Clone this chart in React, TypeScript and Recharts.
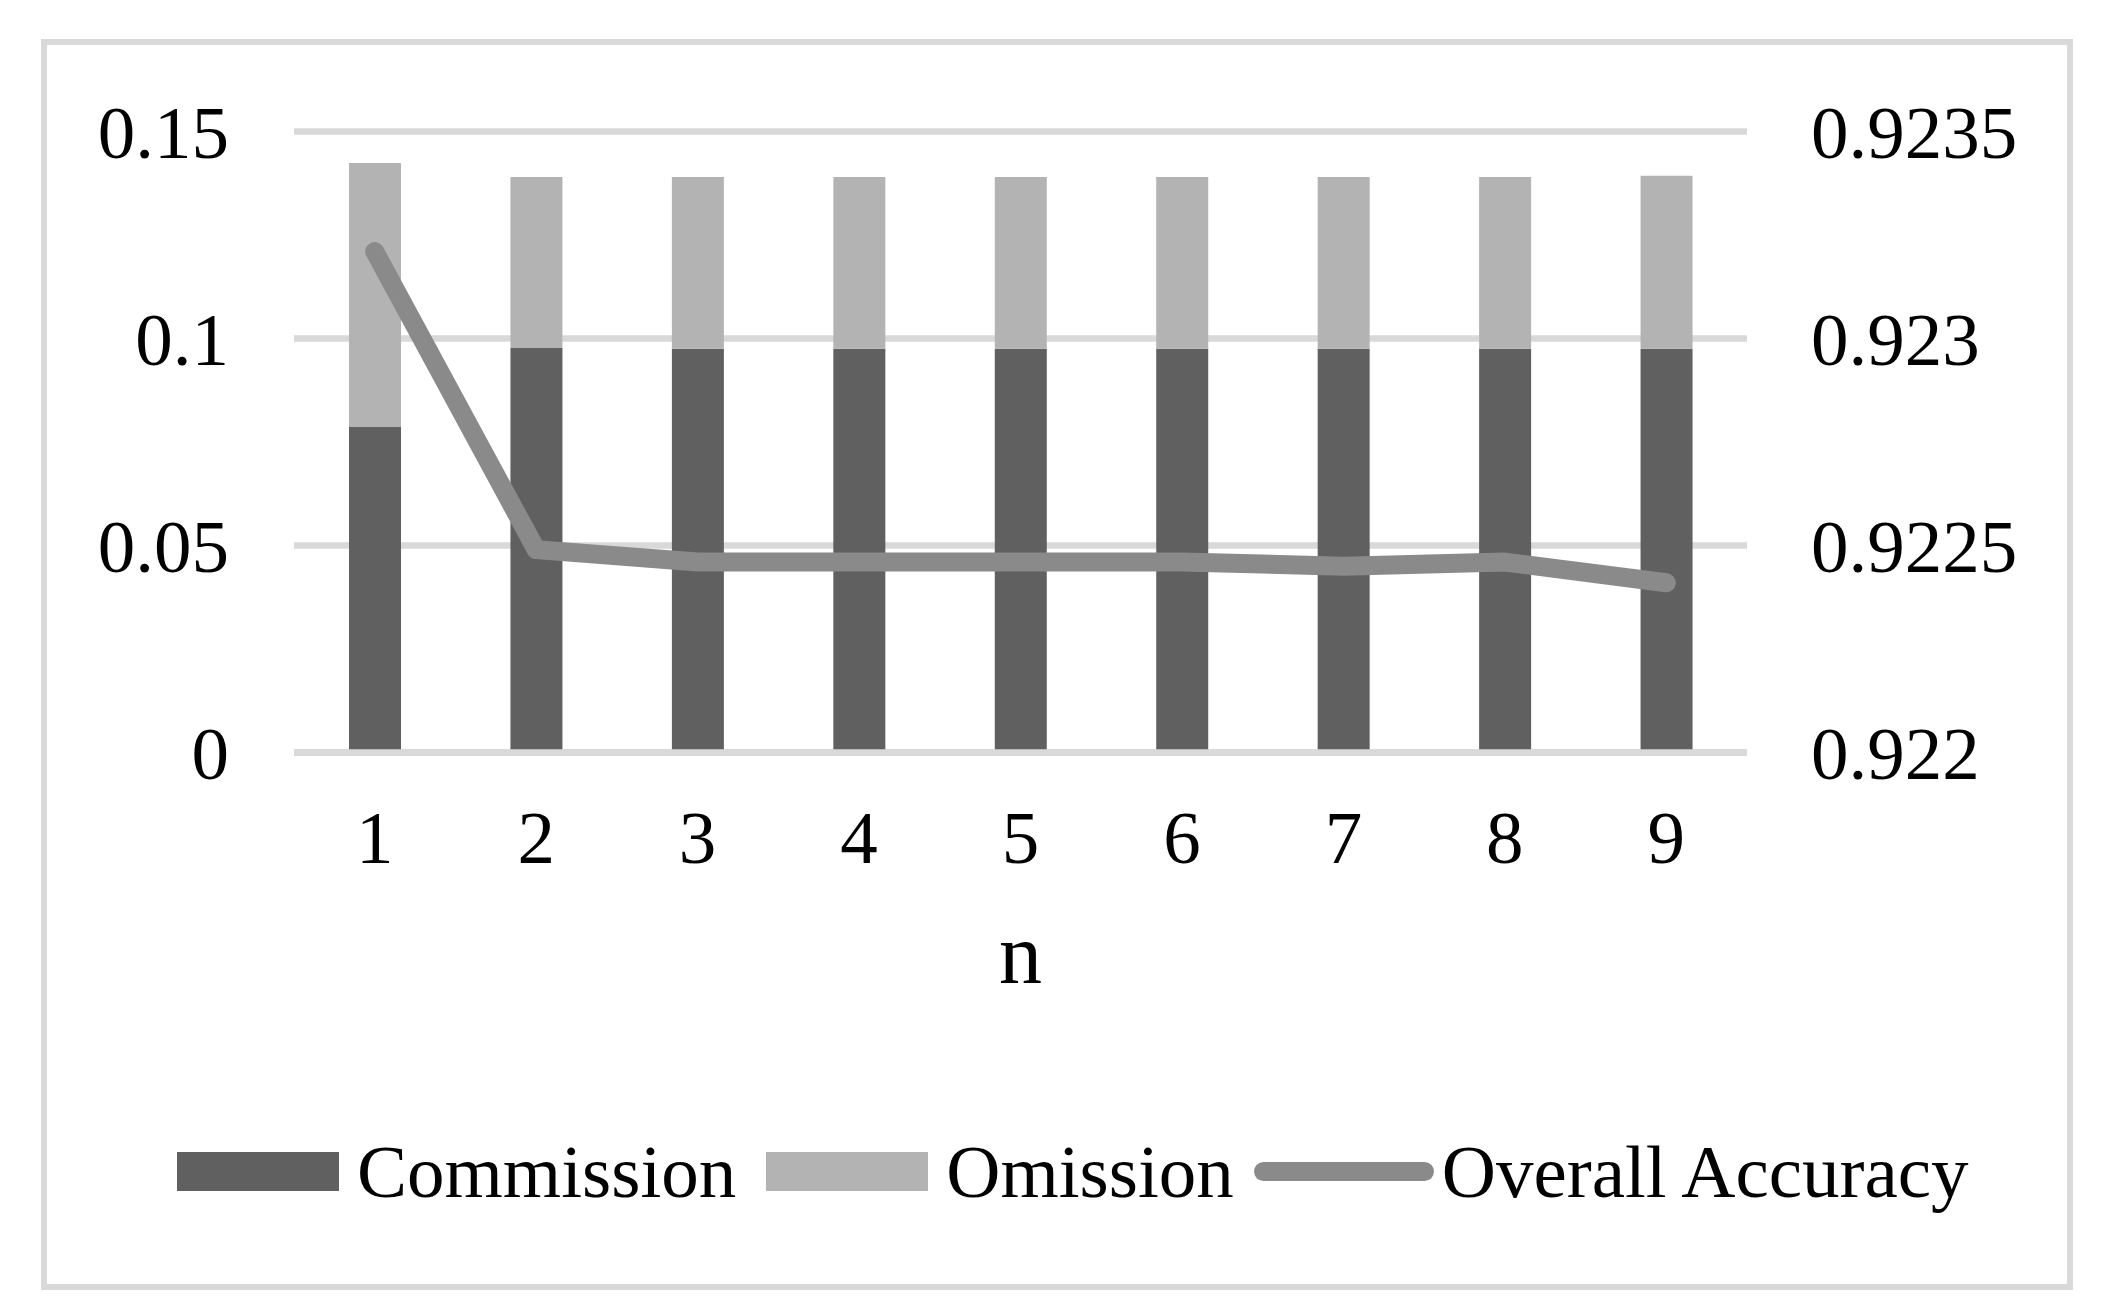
import React from 'react';
import { ComposedChart, Bar, Line, XAxis, YAxis, CartesianGrid, Legend } from 'recharts';

const categories = ['1', '2', '3', '4', '5', '6', '7', '8', '9'];
const commission = [0.0786, 0.0977, 0.0975, 0.0975, 0.0975, 0.0975, 0.0975, 0.0975, 0.0975];
const omission = [0.0638, 0.0413, 0.0415, 0.0415, 0.0415, 0.0415, 0.0415, 0.0415, 0.0418];
const accuracy = [0.92321, 0.92249, 0.92246, 0.92246, 0.92246, 0.92246, 0.92245, 0.92246, 0.92241];

const leftTicks = [0, 0.05, 0.1, 0.15];
const rightTicks = [0.922, 0.9225, 0.923, 0.9235];

const seriesNames = ['Commission', 'Omission', 'Overall Accuracy'];
const colors = ['#606060', '#b3b3b3', '#8a8a8a'];

const data = categories.map((n, i) => ({
  n,
  commission: commission[i],
  omission: omission[i],
  accuracy: accuracy[i],
}));

const FONT = '"Liberation Serif", "Times New Roman", serif';
const W = 2113;
const H = 1306;

const tickStyle = { fill: '#000', fontSize: 75, fontFamily: FONT };

const LegendContent = () => (
  <div
    style={{
      display: 'flex',
      alignItems: 'center',
      height: 80,
      paddingLeft: 169,
      fontFamily: FONT,
      fontSize: 75,
      color: '#000',
      lineHeight: 1,
      whiteSpace: 'nowrap',
    }}
  >
    <div style={{ width: 162, height: 39, background: colors[0], marginRight: 18 }} />
    <span style={{ marginRight: 30 }}>{seriesNames[0]}</span>
    <div style={{ width: 162, height: 39, background: colors[1], marginRight: 18 }} />
    <span style={{ marginRight: 20 }}>{seriesNames[1]}</span>
    <svg width={180} height={39} style={{ marginRight: 8, display: 'block' }}>
      <line x1={9.5} y1={19.5} x2={170.5} y2={19.5} stroke={colors[2]} strokeWidth={19} strokeLinecap="round" />
    </svg>
    <span>{seriesNames[2]}</span>
  </div>
);

export default function App() {
  return (
    <div style={{ position: 'relative', width: W, height: H, background: '#fff' }}>
      <div
        style={{
          position: 'absolute',
          left: 33,
          top: 31,
          width: 2032,
          height: 1251,
          border: '6px solid #d9d9d9',
          boxSizing: 'border-box',
        }}
      />
      <div style={{ position: 'absolute', left: 0, top: 0 }}>
        <ComposedChart
          width={W}
          height={H}
          data={data}
          margin={{ top: 123.5, right: 0, bottom: 321.5, left: 0 }}
          style={{ fontFamily: FONT }}
        >
          <CartesianGrid vertical={false} stroke="#d9d9d9" strokeWidth={6.5} yAxisId="left" />
          <Bar dataKey="commission" name={seriesNames[0]} stackId="a" yAxisId="left" fill={colors[0]} barSize={52} isAnimationActive={false} />
          <Bar dataKey="omission" name={seriesNames[1]} stackId="a" yAxisId="left" fill={colors[1]} barSize={52} isAnimationActive={false} />
          <Line
            dataKey="accuracy"
            name={seriesNames[2]}
            yAxisId="right"
            type="linear"
            stroke={colors[2]}
            strokeWidth={19}
            strokeLinecap="round"
            strokeLinejoin="round"
            dot={false}
            activeDot={false}
            isAnimationActive={false}
          />
          <XAxis
            dataKey="n"
            height={240}
            tickSize={0}
            tickMargin={57}
            tickLine={false}
            axisLine={{ stroke: '#d9d9d9', strokeWidth: 6.5 }}
            tick={tickStyle}
            label={{ value: 'n', position: 'insideBottom', offset: 9.5, fill: '#000', fontSize: 86, fontFamily: FONT }}
          />
          <YAxis
            yAxisId="left"
            orientation="left"
            width={286}
            domain={[0, 0.15]}
            ticks={leftTicks}
            tickSize={0}
            tickMargin={65}
            tickLine={false}
            axisLine={false}
            tick={tickStyle}
          />
          <YAxis
            yAxisId="right"
            orientation="right"
            width={374}
            domain={[0.922, 0.9235]}
            ticks={rightTicks}
            tickSize={0}
            tickMargin={64}
            tickLine={false}
            axisLine={false}
            tick={tickStyle}
          />
          <Legend
            layout="horizontal"
            verticalAlign="middle"
            align="center"
            content={<LegendContent />}
            wrapperStyle={{ left: 0, top: 1123.5, width: W, height: 80 }}
          />
        </ComposedChart>
      </div>
    </div>
  );
}
